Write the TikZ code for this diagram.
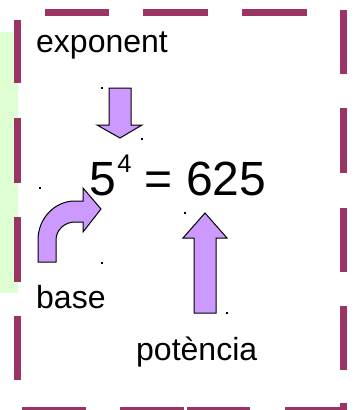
\documentclass[tikz,border=0pt]{standalone}
\usepackage{fontspec}
\setmainfont{Liberation Sans}
\definecolor{bordercol}{RGB}{155,51,100}
\definecolor{lgreen}{RGB}{221,255,210}
\definecolor{lilac}{RGB}{204,153,255}
\begin{document}
\begin{tikzpicture}[x=1pt,y=-1pt,
  dashseg/.style={draw=bordercol, line width=7pt},
  blockarrow/.style={draw=black, fill=lilac, line width=1pt, line join=miter},
  lbl/.style={anchor=base west, inner sep=0pt, font=\fontsize{32}{36}\selectfont},
  marker/.style={fill=black}]
\useasboundingbox (0,0) rectangle (356,410);
% green strip
\fill[lgreen] (0,32) rectangle (17.5,293);
% dashed border, top
\foreach \a/\b in {45/109,143/208,242/307}{\draw[dashseg] (\a,12.5) -- (\b,12.5);}
% right
\foreach \a/\b in {10/74,108/173,208/272,306/370,403/414}{\draw[dashseg] (343.5,\a) -- (343.5,\b);}
% left
\foreach \a/\b in {20/83,118/183,217/282,316/380}{\draw[dashseg] (17.5,\a) -- (17.5,\b);}
% bottom
\foreach \a/\b in {22/86,120/184,187/250,285/347}{\draw[dashseg] (\a,410.5) -- (\b,410.5);}
% texts
\node[lbl] (exp) at (36,52) {exponent};
\node[lbl] (base) at (36,308) {base};
\node[lbl] (pot) at (136,360) {potència};
\node[anchor=base west, inner sep=0pt, font=\fontsize{48}{52}\selectfont] (eq) at (89.5,195)
  {5\kern1pt\raisebox{23pt}{\fontsize{25.5}{28}\selectfont 4} = 625};
% down arrow (exponent)
\draw[blockarrow] (109,88) -- (131,88) -- (131,125) -- (142,125) -- (120,138)
  -- (97,125) -- (109,125) -- cycle;
% up arrow (potencia)
\draw[blockarrow] (194,313) -- (194,238) -- (183,238) -- (205,213) -- (227,238)
  -- (216,238) -- (216,313) -- cycle;
% bent arrow (base)
\draw[blockarrow] (38,262) -- (38,240) arc[start angle=180, end angle=270, x radius=37, y radius=39]
  -- (83,201) -- (83,188) -- (101,209) -- (83,232) -- (83,222) -- (75,222)
  arc[start angle=270, end angle=180, x radius=19, y radius=18] -- (56,262) -- cycle;
% bounding markers
\foreach \p in {(102,88),(142,139),(40,188),(102,263),(185,213),(227,313)}{\fill[marker] \p ++(-0.75,-0.75) rectangle ++(1.5,1.5);}
\end{tikzpicture}
\end{document}
